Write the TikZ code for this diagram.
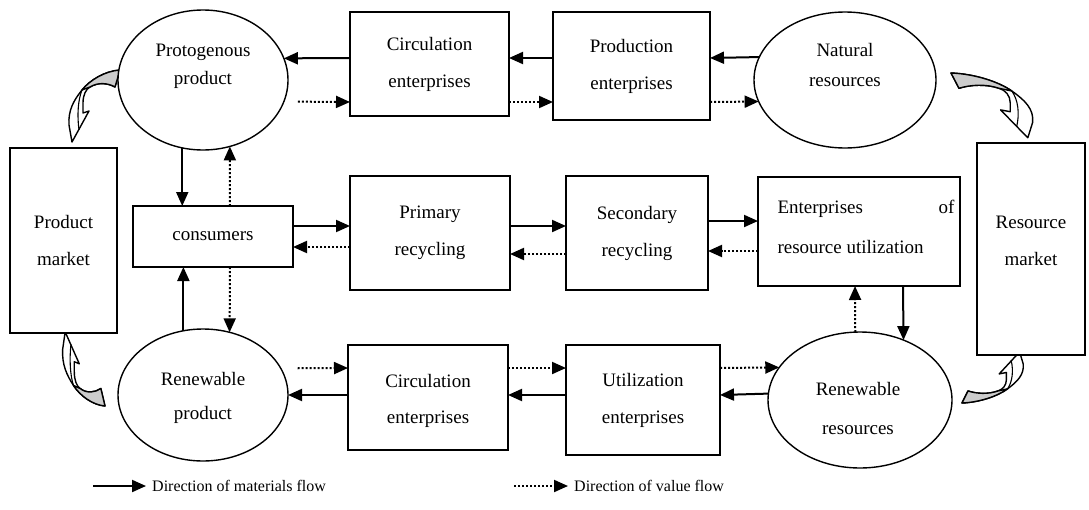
\documentclass[tikz,border=0pt]{standalone}
\usepackage{fontspec}
\setmainfont{Liberation Serif}
\usetikzlibrary{shapes.geometric,arrows.meta}
\begin{document}
\begin{tikzpicture}[x=1pt,y=-1pt,
 box/.style={draw,line width=1.4pt,fill=white,inner sep=0pt,outer sep=0pt,align=center,font=\fontsize{19}{37}\selectfont},
 ell/.style={draw,ellipse,line width=1.4pt,fill=white,inner sep=0pt,outer sep=0pt},
 txt/.style={inner sep=0pt,align=center},
 mat/.style={line width=2pt,-{Triangle[length=14pt,width=12pt]}},
 val/.style={line width=2pt,dash pattern=on 2pt off 2pt,-{Triangle[length=14pt,width=12pt]}},
 legtext/.style={anchor=west,inner sep=0pt,font=\fontsize{16}{18}\selectfont},
 carrow/.pic={
  \path[draw,line width=1.4pt,fill=white,line join=round]
    (0,0) .. controls (-15,1) and (-30,10) .. (-38,20) .. controls (-46,30) and (-52,40) .. (-51,55)
    -- (-48,72) -- (-31,41) -- (-37,43) -- (-37,33) .. controls (-37,25) and (-34,19) .. (-30,17)
    .. controls (-22,12) and (-12,13) .. (-5,17) -- cycle;
  \path[draw,line width=1.4pt,fill=gray!40,line join=round]
    (0,0) .. controls (-15,1) and (-30,10) .. (-38,20) -- (-30,17) .. controls (-22,12) and (-12,13) .. (-5,17) -- cycle;
  \draw[line width=1.1pt] (-38,20) .. controls (-42,30) and (-43,45) .. (-41,60);
 }
]
\useasboundingbox (0,0) rectangle (1089,509);
% curved market arrows
\pic at (120,70) {carrow};
\pic[xscale=-1.6,yscale=0.9] at (951,73) {carrow};
\pic[xscale=0.83,yscale=-1.03] at (105,406) {carrow};
\pic[xscale=-1.2,yscale=-0.71] at (962,403) {carrow};
% nodes
\node[ell,minimum width=170,minimum height=140] (proto) at (203,80) {};
\node[txt,font=\fontsize{19}{28}\selectfont] (protoT) at (203,66) {Protogenous\\product};
\node[box,minimum width=159,minimum height=104] (circ1) at (429.5,64) {Circulation\\enterprises};
\node[box,minimum width=157,minimum height=108] (prod) at (631.5,66) {Production\\enterprises};
\node[ell,minimum width=182,minimum height=136] (natural) at (845,80) {};
\node[txt,font=\fontsize{19}{30}\selectfont] (naturalT) at (845,65) {Natural\\resources};
\node[box,minimum width=107,minimum height=185] (pmarket) at (63.5,240.5) {Product\\market};
\node[box,minimum width=108,minimum height=212] (rmarket) at (1031,249) {};
\node[txt,font=\fontsize{19}{37}\selectfont] (rmarketT) at (1031,241) {Resource\\market};
\node[box,minimum width=160,minimum height=61] (consumers) at (213,236.5) {consumers};
\node[box,minimum width=160,minimum height=114] (primary) at (430,233) {Primary\\recycling};
\node[box,minimum width=142,minimum height=114] (secondary) at (637,233) {Secondary\\recycling};
\node[box,minimum width=202,minimum height=109] (enterp) at (859,231.5) {};
\node[txt,align=left,font=\fontsize{19}{40}\selectfont] (enterpT) at (866,227) {\hbox to 177pt{Enterprises\hfill of}\\resource utilization};
\node[ell,minimum width=170,minimum height=132] (renprod) at (203,395) {};
\node[txt,font=\fontsize{19}{34}\selectfont] (renprodT) at (203,398) {Renewable\\product};
\node[box,minimum width=160,minimum height=105] (circ2) at (428,397.5) {};
\node[txt,font=\fontsize{19}{36}\selectfont] (circ2T) at (428,401) {Circulation\\enterprises};
\node[box,minimum width=154,minimum height=110] (util) at (643,400) {Utilization\\enterprises};
\node[ell,minimum width=184,minimum height=136] (renres) at (860,400) {};
\node[txt,font=\fontsize{19}{39}\selectfont] (renresT) at (858,408) {Renewable\\resources};
% top row
\draw[mat] (circ1.west |- 0,58) -- (proto.15.3);
\draw[val] ([xshift=14pt]proto.-15.3) -- (circ1.west |- 0,102);
\draw[mat] (prod.west |- 0,58) -- (circ1.east |- 0,58);
\draw[val] (circ1.east |- 0,102) -- (prod.west |- 0,102);
\draw[mat] (natural.165.5) -- (prod.east |- 0,58);
\draw[val] (prod.east |- 0,102) -- (natural.194.5);
% consumers verticals
\draw[mat] (proto.253.6) -- (consumers.north -| proto.253.6);
\draw[val] (consumers.north -| 230,0) -- (proto.292.1);
\draw[mat] (renprod.107.1) -- (consumers.south -| renprod.107.1);
\draw[val] (consumers.south -| 230,0) -- (renprod.67);
% middle row
\draw[mat] (consumers.east |- 0,226) -- (primary.west |- 0,226);
\draw[val] (primary.west |- 0,247) -- (consumers.east |- 0,247);
\draw[mat] (primary.east |- 0,226) -- (secondary.west |- 0,226);
\draw[val] (secondary.west |- 0,254) -- (primary.east |- 0,254);
\draw[mat] (secondary.east |- 0,221) -- (enterp.west |- 0,221);
\draw[val] (enterp.west |- 0,251) -- (secondary.east |- 0,251);
% right verticals
\draw[mat] (enterp.south -| 903,0) -- (renres.54.4);
\draw[val] (renres.94.2) -- (enterp.south -| 855,0);
% bottom row
\draw[val] ([xshift=17pt]renprod.19.1) -- (circ2.west |- 0,368);
\draw[mat] (circ2.west |- 0,395) -- (renprod.east);
\draw[val] (circ2.east |- 0,368) -- (util.west |- 0,368);
\draw[mat] (util.west |- 0,395) -- (circ2.east |- 0,395);
\draw[val] (util.east |- 0,368) -- (renres.158.5);
\draw[mat] (renres.176.9) -- (util.east |- 0,395);
% legend
\coordinate (l1a) at (93,486);
\coordinate (l1b) at (146,486);
\coordinate (l2a) at (514,486);
\coordinate (l2b) at (568,486);
\draw[mat] (l1a) -- (l1b);
\node[legtext] (t1) at (152,486) {Direction of materials flow};
\draw[val] (l2a) -- (l2b);
\node[legtext] (t2) at (574,486) {Direction of value flow};
\end{tikzpicture}
\end{document}
